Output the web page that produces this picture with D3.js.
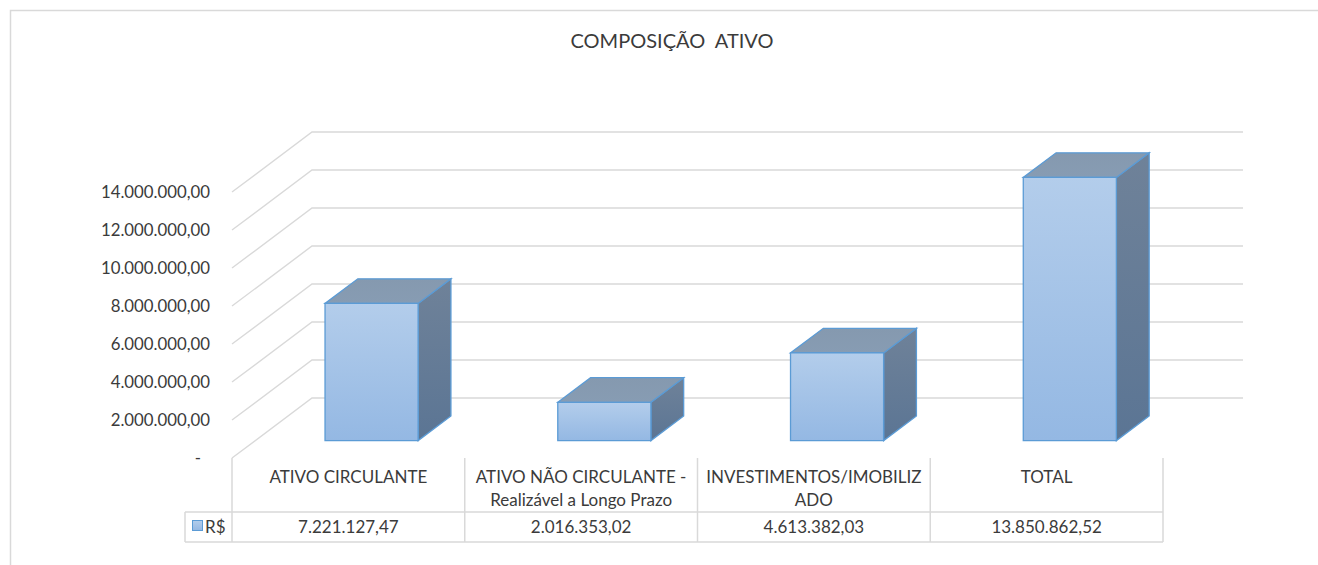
<!DOCTYPE html>
<html>
<head>
<meta charset="utf-8">
<script src="https://cdn.jsdelivr.net/npm/d3@7"></script>
<style>
  body { margin: 0; background: #fff; }
  svg { display: block; font-family: Lato, "Open Sans", sans-serif; }
</style>
</head>
<body>
<svg id="chart"></svg>
<script>
  const categories = [
    "ATIVO CIRCULANTE",
    "ATIVO NÃO CIRCULANTE - Realizável a Longo Prazo",
    "INVESTIMENTOS/IMOBILIZADO",
    "TOTAL",
  ];
  // header cell wrapping as in the table
  const categoryLines = [
    ["ATIVO CIRCULANTE"],
    ["ATIVO NÃO CIRCULANTE -", "Realizável a Longo Prazo"],
    ["INVESTIMENTOS/IMOBILIZ", "ADO"],
    ["TOTAL"],
  ];
  const values = [7221127.47, 2016353.02, 4613382.03, 13850862.52];
  const valueLabels = ["7.221.127,47", "2.016.353,02", "4.613.382,03", "13.850.862,52"];
  const yTicks = [0, 2000000, 4000000, 6000000, 8000000, 10000000, 12000000, 14000000];
  const seriesName = "R$";

  const size = { width: 1318, height: 565 };
  const grey = "#d9d9d9";
  const textColor = "#3b3b3b";

  // 3d depth offsets
  const DX = 80, DY = 60;
  const floorY = 458;
  const depth = { front: 0.29, back: 0.7 };

  const svg = d3.select("#chart").attr("width", size.width).attr("height", size.height);

  const defs = svg.append("defs");
  const grad = (id, c1, c2) => {
    const g = defs.append("linearGradient").attr("id", id)
      .attr("x1", 0).attr("y1", 0).attr("x2", 0).attr("y2", 1);
    g.append("stop").attr("offset", "0%").attr("stop-color", c1);
    g.append("stop").attr("offset", "100%").attr("stop-color", c2);
  };
  grad("frontGrad", "#b3cdeb", "#94b8e3");
  grad("sideGrad", "#6f8299", "#5b7594");
  grad("topGrad", "#8599af", "#879cb3");

  // chart border
  svg.append("rect")
    .attr("x", 10.5).attr("y", 10.5)
    .attr("width", 1320).attr("height", 600)
    .attr("fill", "none").attr("stroke", grey).attr("stroke-width", 1.5);

  svg.append("text")
    .text("COMPOSIÇÃO  ATIVO")
    .attr("x", 672).attr("y", 48)
    .attr("text-anchor", "middle")
    .attr("fill", textColor)
    .style("white-space", "pre")
    .style("font-size", "20px");

  const x = d3.scaleBand().domain(categories).range([232, 1163]).padding(0);
  const yh = d3.scaleLinear().domain([0, 14000000]).range([0, 266]);

  const p = (px, v, d) => [px + d * DX, floorY - yh(v) - d * DY];

  // gridlines: back wall + left wall
  const grid = svg.append("g").attr("stroke", grey).attr("stroke-width", 1.4).attr("fill", "none");
  yTicks.forEach((v) => {
    const a = p(x.range()[0], v, 0), b = p(x.range()[0], v, 1), c = p(x.range()[1], v, 1);
    grid.append("polyline").attr("points", [a, b, c].map((q) => q.join(",")).join(" "));
  });

  // y labels (accounting style: zero shown as a dash)
  const fmt = (v) => v === 0 ? "-" : d3.format(",.2f")(v).replace(/,/g, "#").replace(".", ",").replace(/#/g, ".");
  svg.append("g")
    .selectAll("text")
    .data(yTicks)
    .join("text")
    .attr("x", (v) => v === 0 ? 201 : 210)
    .attr("y", (v) => p(0, v, 0)[1])
    .attr("dy", "0.35em")
    .attr("text-anchor", "end")
    .attr("fill", textColor)
    .style("font-size", "16.8px")
    .text(fmt);

  // bars
  const bars = svg.append("g").selectAll("g").data(categories).join("g");
  const bw = x.bandwidth() * 0.4;
  bars.each(function (c, i) {
    const g = d3.select(this);
    const v = values[i];
    const x0 = x(c) + (x.bandwidth() - bw) / 2, x1 = x0 + bw;
    const poly = (pts) => pts.map((q) => q.join(",")).join(" ");
    g.append("polygon")
      .attr("points", poly([p(x1, 0, depth.front), p(x1, v, depth.front), p(x1, v, depth.back), p(x1, 0, depth.back)]))
      .attr("fill", "url(#sideGrad)").attr("stroke", "#5b9bd5").attr("stroke-width", 1.3);
    g.append("polygon")
      .attr("points", poly([p(x0, v, depth.front), p(x1, v, depth.front), p(x1, v, depth.back), p(x0, v, depth.back)]))
      .attr("fill", "url(#topGrad)").attr("stroke", "#5b9bd5").attr("stroke-width", 1.3);
    g.append("polygon")
      .attr("points", poly([p(x0, 0, depth.front), p(x0, v, depth.front), p(x1, v, depth.front), p(x1, 0, depth.front)]))
      .attr("fill", "url(#frontGrad)").attr("stroke", "#5b9bd5").attr("stroke-width", 1.3);
  });

  // data table
  const table = svg.append("g");
  const rowTop = 512, rowBottom = 542, legendLeft = 185;
  const tl = table.append("g").attr("stroke", grey).attr("stroke-width", 1.5);
  [x.range()[0], ...categories.map((c) => x(c) + x.bandwidth())].forEach((xv) => {
    tl.append("line").attr("x1", xv).attr("x2", xv).attr("y1", floorY).attr("y2", rowBottom);
  });
  [rowTop, rowBottom].forEach((yv) => {
    tl.append("line").attr("x1", legendLeft).attr("x2", x.range()[1]).attr("y1", yv).attr("y2", yv);
  });
  tl.append("line").attr("x1", legendLeft).attr("x2", legendLeft).attr("y1", rowTop).attr("y2", rowBottom);

  categories.forEach((c, i) => {
    const t = table.append("text")
      .attr("x", x(c) + x.bandwidth() / 2)
      .attr("y", 483)
      .attr("text-anchor", "middle")
      .attr("fill", textColor)
      .style("font-size", "17px");
    categoryLines[i].forEach((line, j) => {
      t.append("tspan").attr("x", x(c) + x.bandwidth() / 2).attr("dy", j === 0 ? 0 : 23).text(line);
    });
    table.append("text")
      .attr("x", x(c) + x.bandwidth() / 2)
      .attr("y", 533)
      .attr("text-anchor", "middle")
      .attr("fill", textColor)
      .style("font-size", "17px")
      .text(valueLabels[i]);
  });

  // legend key
  table.append("rect")
    .attr("x", 192.5).attr("y", 520.5).attr("width", 10).attr("height", 10)
    .attr("fill", "url(#frontGrad)").attr("stroke", "#5b9bd5");
  table.append("text")
    .attr("x", 205).attr("y", 533)
    .attr("fill", textColor)
    .style("font-size", "17px")
    .text(seriesName);
</script>
</body>
</html>
